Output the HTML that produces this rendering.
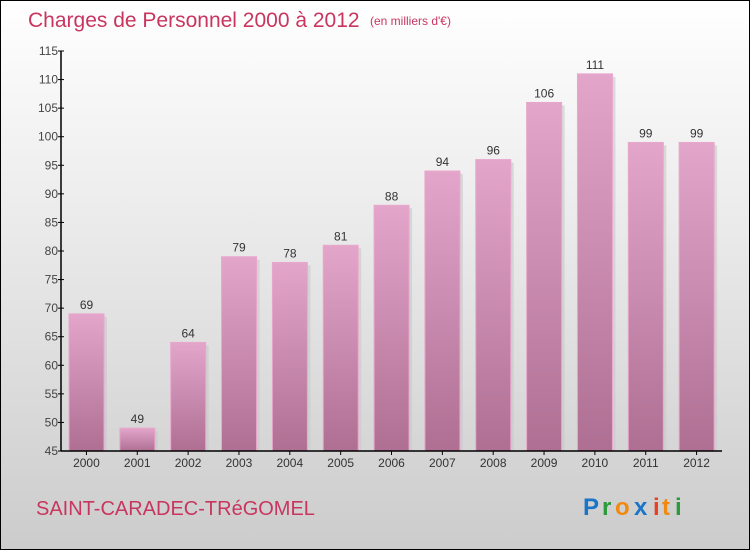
<!DOCTYPE html>
<html><head><meta charset="utf-8"><style>
body{margin:0}
#c{width:750px;height:550px;position:relative;box-sizing:border-box;border:1px solid #000;background:linear-gradient(#fff,#f0f0f0 30%,#ccc);font-family:"Liberation Sans",sans-serif;overflow:hidden}
</style></head><body>
<div id="c">
<svg width="748" height="548" style="position:absolute;left:0;top:0" id="s">
<defs>
<linearGradient id="g" x1="0" y1="0" x2="0" y2="1"><stop offset="0" stop-color="#e3a6ca"/><stop offset="1" stop-color="#ae6f93"/></linearGradient>
</defs>
<text x="27" y="26" font-size="21" fill="#c8365f">Charges de Personnel 2000 à 2012</text>
<text x="369" y="24" font-size="12" fill="#c8365f">(en milliers d'€)</text>
<text x="35" y="514" font-size="20" fill="#c8365f">SAINT-CARADEC-TRéGOMEL</text>
<g font-size="24" font-weight="bold">
<text x="582" y="514" fill="#1a74c8">P</text><text x="601" y="514" fill="#2a9a3a">r</text><text x="614" y="514" fill="#f08a10">o</text><text x="633" y="514" fill="#1a74c8">x</text><text x="652" y="514" fill="#e84020">i</text><text x="661" y="514" fill="#f08a10">t</text><text x="674" y="514" fill="#2a9a3a">i</text>
</g>
<g id="plot"></g>
</svg>
</div>
<script>
const categories=["2000","2001","2002","2003","2004","2005","2006","2007","2008","2009","2010","2011","2012"];
const values=[69,49,64,79,78,81,88,94,96,106,111,99,99];
const yTicks=[45,50,55,60,65,70,75,80,85,90,95,100,105,110,115];
const ns="http://www.w3.org/2000/svg";
const p=document.getElementById('plot');
const x0=60,x1=721,yTop=50,yBot=450,vMin=45,vMax=115;
const bw=(x1-x0)/categories.length;
const y=v=>yBot-(v-vMin)/(vMax-vMin)*(yBot-yTop);
function mk(t,a){const e=document.createElementNS(ns,t);for(const k in a)e.setAttribute(k,a[k]);p.appendChild(e);return e;}
categories.forEach((c,i)=>{
 const bx=x0+i*bw+8,w=35,top=y(values[i]);
 const sh=mk('rect',{x:bx+3,y:top+3,width:w,height:yBot-top-3,fill:'#c8c8c8',opacity:0.6});
 
 
 const r=mk('rect',{x:bx,y:top,width:w,height:yBot-top,fill:'url(#g)',stroke:'#e8a8cc','stroke-width':1});
 
 
 const vl=mk('text',{x:bx+w/2,y:top-5,'text-anchor':'middle','font-size':12,fill:'#333'});
 vl.textContent=values[i];
 
 
 const xl=mk('text',{x:x0+i*bw+bw/2,y:466,'text-anchor':'middle','font-size':12,fill:'#333'});
 xl.textContent=c;
 
 
 const tk=mk('line',{x1:x0+i*bw+bw/2,x2:x0+i*bw+bw/2,y1:yBot,y2:yBot+4,stroke:'#000'});
 
 
});
yTicks.forEach(v=>{
 const t=mk('line',{x1:x0-3,x2:x0+3,y1:y(v),y2:y(v),stroke:'#000'});
 
 
 const l=mk('text',{x:x0-3,y:y(v)+4,'text-anchor':'end','font-size':12,fill:'#444'});
 l.textContent=v;
 
 
});
const ya=mk('line',{x1:x0,x2:x0,y1:yTop,y2:yBot,stroke:'#000','stroke-width':1.5});


const xa=mk('line',{x1:x0,x2:x1,y1:yBot,y2:yBot,stroke:'#000','stroke-width':1.5});


</script>
</body></html>
